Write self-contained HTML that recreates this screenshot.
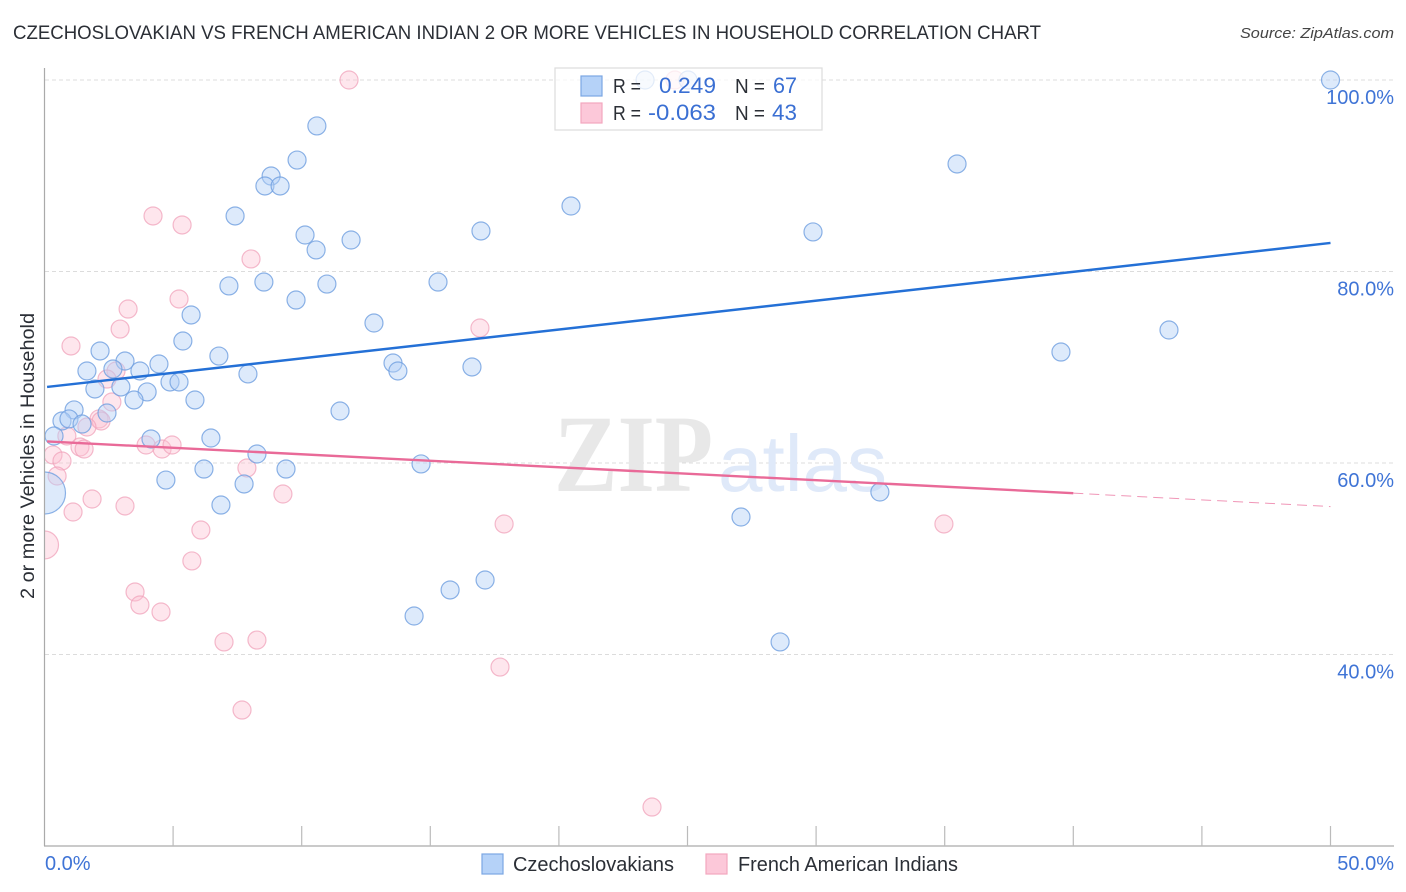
<!DOCTYPE html>
<html lang="en">
<head>
<meta charset="utf-8">
<title>Czechoslovakian vs French American Indian correlation chart</title>
<style>
html,body{margin:0;padding:0;background:#fff;}
svg{display:block;font-family:"Liberation Sans",sans-serif;}
</style>
</head>
<body>
<svg id="chart" width="1406" height="892" viewBox="0 0 1406 892">
  <defs><clipPath id="plot-clip"><rect x="45" y="60" width="1350" height="786"/></clipPath></defs>
  <text x="13" y="39" font-size="19" fill="#2b2f36" textLength="1028" lengthAdjust="spacingAndGlyphs">CZECHOSLOVAKIAN VS FRENCH AMERICAN INDIAN 2 OR MORE VEHICLES IN HOUSEHOLD CORRELATION CHART</text>
  <text x="1394" y="38" font-size="15" font-style="italic" fill="#444" text-anchor="end" textLength="154" lengthAdjust="spacingAndGlyphs">Source: ZipAtlas.com</text>
  <g id="grid"></g>
  <g>
    <text x="554" y="491" font-family="'Liberation Serif',serif" font-weight="bold" font-size="110" fill="#e8e8e8" textLength="159" lengthAdjust="spacingAndGlyphs">ZIP</text>
    <text x="718" y="491" font-size="80" fill="#dfe9f9" textLength="169" lengthAdjust="spacingAndGlyphs">atlas</text>
  </g>
  <g id="points" clip-path="url(#plot-clip)"></g>
  <g id="trends"></g>
  <g id="axes"></g>
  <text transform="translate(34,456) rotate(-90)" font-size="19" fill="#2b2f36" text-anchor="middle" textLength="286" lengthAdjust="spacingAndGlyphs">2 or more Vehicles in Household</text>

  <g>
    <rect x="555" y="68" width="267" height="62" fill="#fff" fill-opacity="0.75" stroke="#dcdcdc" stroke-width="1.2"/>
    <rect x="581" y="76" width="21" height="20" fill="#b5d2f8" stroke="#7ba6e3" stroke-width="1.2"/>
    <rect x="581" y="103" width="21" height="20" fill="#fcc8d9" stroke="#f2a6bf" stroke-width="1.2"/>
    <text x="613" y="93" font-size="20" fill="#2b2f36" textLength="28" lengthAdjust="spacingAndGlyphs">R =</text>
    <text x="659" y="93" font-size="22" fill="#3a6fd3" textLength="57" lengthAdjust="spacingAndGlyphs">0.249</text>
    <text x="735" y="93" font-size="20" fill="#2b2f36" textLength="30" lengthAdjust="spacingAndGlyphs">N =</text>
    <text x="773" y="93" font-size="22" fill="#3a6fd3" textLength="24" lengthAdjust="spacingAndGlyphs">67</text>
    <text x="613" y="120" font-size="20" fill="#2b2f36" textLength="28" lengthAdjust="spacingAndGlyphs">R =</text>
    <text x="648" y="120" font-size="22" fill="#3a6fd3" textLength="68" lengthAdjust="spacingAndGlyphs">-0.063</text>
    <text x="735" y="120" font-size="20" fill="#2b2f36" textLength="30" lengthAdjust="spacingAndGlyphs">N =</text>
    <text x="772" y="120" font-size="22" fill="#3a6fd3" textLength="25" lengthAdjust="spacingAndGlyphs">43</text>
  </g>

  <g>
    <rect x="482" y="854" width="21" height="20" fill="#b5d2f8" stroke="#7ba6e3" stroke-width="1.2"/>
    <text x="513" y="871" font-size="20" fill="#2b2f36" textLength="161" lengthAdjust="spacingAndGlyphs">Czechoslovakians</text>
    <rect x="706" y="854" width="21" height="20" fill="#fcc8d9" stroke="#f2a6bf" stroke-width="1.2"/>
    <text x="738" y="871" font-size="20" fill="#2b2f36" textLength="220" lengthAdjust="spacingAndGlyphs">French American Indians</text>
  </g>
</svg>
<script>
const yTicks = [100, 80, 60, 40];
const yTickLabels = ["100.0%", "80.0%", "60.0%", "40.0%"];
const xTicks = [0, 5, 10, 15, 20, 25, 30, 35, 40, 45, 50];
const xEndLabels = ["0.0%", "50.0%"];

const blueX = [50,23.35,25.02,10.59,9.82,35.48,8.81,8.57,9.16,20.47,7.41,16.97,29.88,10.13,10.56,11.92,7.17,8.53,9.78,10.98,15.3,5.7,12.81,43.72,5.38,2.16,6.78,39.52,3.13,4.45,13.55,1.65,3.71,2.66,13.74,16.62,7.91,4.88,5.23,1.96,2.97,3.99,3.48,5.85,1.15,2.43,11.49,0.68,0.95,1.46,0.37,4.14,6.47,8.26,14.64,6.2,9.39,4.72,7.76,32.48,6.86,27.08,17.13,15.77,14.37,28.6,0];
const blueY = [100,100,100,95.2,91.64,91.23,89.97,88.93,88.93,86.84,85.8,84.23,84.13,83.81,82.25,83.29,78.49,78.9,77.02,78.69,78.9,75.46,74.62,73.89,72.74,71.7,71.17,71.59,70.65,70.34,70.44,69.61,69.61,69.82,69.61,70.03,69.3,68.46,68.46,67.73,67.94,67.42,66.58,66.58,65.54,65.22,65.43,64.39,64.6,64.07,62.82,62.51,62.61,60.94,59.9,59.37,59.37,58.22,57.81,56.97,55.61,54.36,47.78,46.74,44.02,41.31,56.87];
const blueSize = [9,9,9,9,9,9,9,9,9,9,9,9,9,9,9,9,9,9,9,9,9,9,9,9,9,9,9,9,9,9,9,9,9,9,9,9,9,9,9,9,9,9,9,9,9,9,9,9,9,9,9,9,9,9,9,9,9,9,9,9,9,9,9,9,9,9,21];

const pinkX = [11.84,24.51,4.22,5.35,8.03,5.23,3.25,2.94,16.93,1.03,2.78,2.43,2.62,2.12,2.2,1.65,0.87,1.38,1.54,0.33,0.68,3.95,4.57,4.96,7.87,0.49,1.85,9.27,3.13,1.11,6.08,17.87,34.97,5.73,3.52,3.71,4.53,6.98,8.26,17.71,7.68,23.62,0];
const pinkY = [100,100,85.8,84.86,81.31,77.13,76.08,73.99,74.1,72.22,69.61,68.77,66.37,64.6,64.39,63.76,62.82,61.67,61.46,60.84,60.21,61.88,61.46,61.88,59.48,58.64,56.24,56.76,55.51,54.88,53,53.63,53.63,49.77,46.53,45.17,44.44,41.31,41.51,38.69,34.2,24.07,51.44];
const pinkSize = [9,9,9,9,9,9,9,9,9,9,9,9,9,9,9,9,9,9,9,9,9,9,9,9,9,9,9,9,9,9,9,9,9,9,9,9,9,9,9,9,9,9,14];

const blueTrendX = [0.1, 50];
const blueTrendY = [67.94, 82.98];
const pinkTrendX = [0.1, 40];
const pinkTrendY = [62.25, 56.85];
const pinkDashX = [40, 50];
const pinkDashY = [56.85, 55.45];

const NS = "http://www.w3.org/2000/svg";
const xScale = v => 44.5 + v * 25.72;
const yScale = v => 80 + (100 - v) * 9.575;

function make(parent, tag, attrs) {
  const el = document.createElementNS(NS, tag);
  for (const k in attrs) el.setAttribute(k, attrs[k]);
  parent.appendChild(el);
  return el;
}

const grid = document.getElementById("grid");
const axes = document.getElementById("axes");
const points = document.getElementById("points");
const trends = document.getElementById("trends");

yTicks.forEach((t, i) => {
  const line = make(grid, "line", {x1: 45, x2: 1394, y1: yScale(t), y2: yScale(t), stroke: "#dcdcdc", "stroke-width": 1, "stroke-dasharray": "4 3"});
  
  
  const label = make(axes, "text", {x: 1394, y: yScale(t) + 24, "font-size": 20, fill: "#3f74d6", "text-anchor": "end"});
  label.textContent = yTickLabels[i];
  
  
});

const yAxis = make(axes, "line", {x1: 44.5, x2: 44.5, y1: 68, y2: 846, stroke: "#aaaaaa", "stroke-width": 1.2});


const xAxis = make(axes, "line", {x1: 44, x2: 1394, y1: 846, y2: 846, stroke: "#aaaaaa", "stroke-width": 1.2});



xTicks.slice(1).forEach(t => {
  const tick = make(axes, "line", {x1: xScale(t), x2: xScale(t), y1: 826, y2: 846, stroke: "#bbbbbb", "stroke-width": 1.2});
  
  
});

const xLabelLeft = make(axes, "text", {x: 45, y: 870, "font-size": 20, fill: "#3f74d6"});
xLabelLeft.textContent = xEndLabels[0];


const xLabelRight = make(axes, "text", {x: 1394, y: 870, "font-size": 20, fill: "#3f74d6", "text-anchor": "end"});
xLabelRight.textContent = xEndLabels[1];



pinkX.forEach((v, i) => {
  const c = make(points, "circle", {cx: xScale(v), cy: yScale(pinkY[i]), r: pinkSize[i], fill: "#fcc0d3", "fill-opacity": 0.4, stroke: "#f0a3bb", "stroke-opacity": 0.75, "stroke-width": 1.2});
  
  
});
blueX.forEach((v, i) => {
  const c = make(points, "circle", {cx: xScale(v), cy: yScale(blueY[i]), r: blueSize[i], fill: "#b3d1f7", "fill-opacity": 0.45, stroke: "#6f9fe0", "stroke-opacity": 0.8, "stroke-width": 1.2});
  
  
});

const blueLine = make(trends, "line", {x1: xScale(blueTrendX[0]), y1: yScale(blueTrendY[0]), x2: xScale(blueTrendX[1]), y2: yScale(blueTrendY[1]), stroke: "#2470d6", "stroke-width": 2.4});


const pinkLine = make(trends, "line", {x1: xScale(pinkTrendX[0]), y1: yScale(pinkTrendY[0]), x2: xScale(pinkTrendX[1]), y2: yScale(pinkTrendY[1]), stroke: "#e96a98", "stroke-width": 2.4});


const pinkDash = make(trends, "line", {x1: xScale(pinkDashX[0]), y1: yScale(pinkDashY[0]), x2: xScale(pinkDashX[1]), y2: yScale(pinkDashY[1]), stroke: "#e96a98", "stroke-width": 1, "stroke-dasharray": "10 6", "stroke-opacity": 0.7});


</script>
</body>
</html>
